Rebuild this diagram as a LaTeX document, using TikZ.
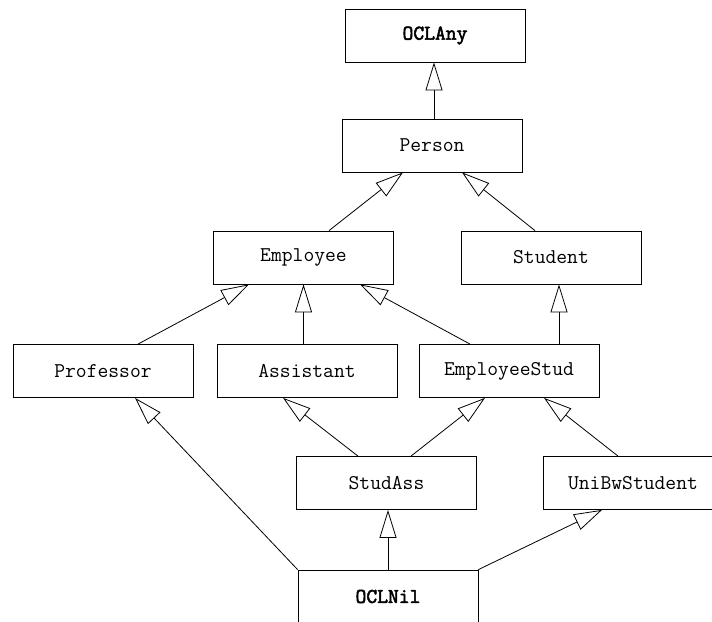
\documentclass[tikz,border=0pt]{standalone}
\usepackage{fontspec}
\newfontfamily\heavytt{Latin Modern Mono}[FakeBold=2.5]
\usetikzlibrary{arrows.meta}

\begin{document}
\begin{tikzpicture}[x=1pt, y=-1pt,
    cls/.style={draw, rectangle, minimum width=180pt, minimum height=53pt,
      inner sep=0pt, line width=0.8pt, font=\fontsize{21}{24}\selectfont\ttfamily},
    top/.style={cls, font=\fontsize{21}{24}\selectfont\heavytt},
    gen/.style={-{Triangle[open, length=28pt, width=17pt]}, line width=0.8pt}]
  \useasboundingbox (0,0) rectangle (712,621);
  \clip (0,0) rectangle (712,621);

  % Top
  \node[top] (any) at (435,35.5) {OCLAny};
  \node[cls] (person) at (432,145.5) {Person};

  % Second level
  \node[cls] (emp) at (303.5,257.5) {Employee};
  \node[cls] (stu) at (551,257.5) {Student};

  % Third level
  \node[cls] (prof) at (103,371) {Professor};
  \node[cls] (asst) at (307,371) {Assistant};
  \node[cls] (empstud) at (509,371) {EmployeeStud};

  % Fourth level
  \node[cls] (studass) at (386.5,483) {StudAss};
  \node[cls] (unibw) at (633,483) {UniBwStudent};

  % Bottom
  \node[top] (nil) at (388,596.5) {OCLNil};

  % Generalizations
  \draw[gen] ([xshift=2pt]person.north) -- ([xshift=-1pt]any.south);
  \draw[gen] ([xshift=25.5pt]emp.north) -- ([xshift=-29pt]person.south);
  \draw[gen] ([xshift=-16pt]stu.north) -- ([xshift=30pt]person.south);
  \draw[gen] ([xshift=35pt]prof.north) -- ([xshift=-54.5pt]emp.south);
  \draw[gen] ([xshift=-3.5pt]asst.north) -- (emp.south);
  \draw[gen] ([xshift=-39pt]empstud.north) -- ([xshift=56.5pt]emp.south);
  \draw[gen] ([xshift=50pt]empstud.north) -- ([xshift=8pt]stu.south);
  \draw[gen] ([xshift=-28.5pt]studass.north) -- ([xshift=-24pt]asst.south);
  \draw[gen] ([xshift=24.5pt]studass.north) -- ([xshift=-24pt]empstud.south);
  \draw[gen] ([xshift=-15pt]unibw.north) -- ([xshift=35pt]empstud.south);
  \draw[gen] (nil.north west) -- ([xshift=32pt]prof.south);
  \draw[gen] (nil.north) -- ([xshift=1.5pt]studass.south);
  \draw[gen] (nil.north east) -- ([xshift=-31pt]unibw.south);

\end{tikzpicture}
\end{document}
